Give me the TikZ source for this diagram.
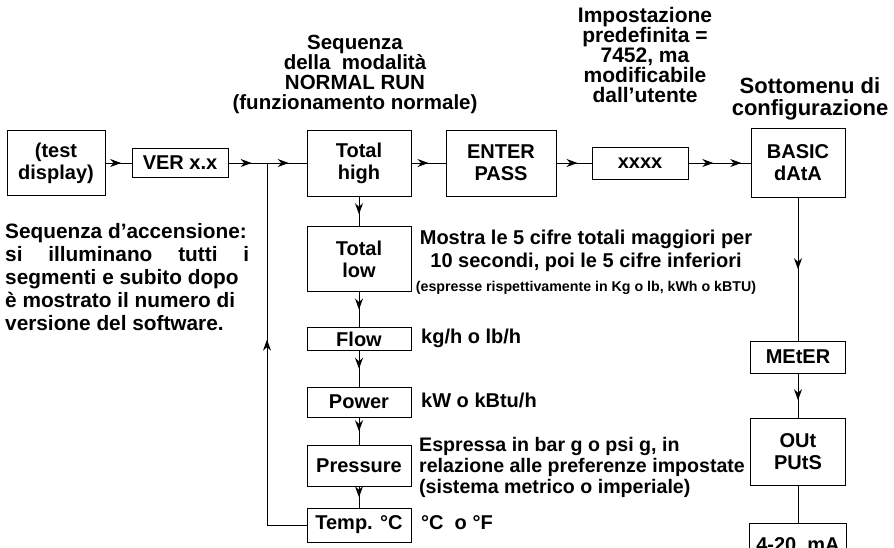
\documentclass[tikz,border=0pt]{standalone}
\usepackage{fontspec}
\setmainfont{Liberation Sans}
\usetikzlibrary{arrows.meta,decorations.markings,positioning}

\begin{document}
\begin{tikzpicture}[x=1pt,y=-1pt,
  box/.style={draw, line width=1pt, align=center, inner sep=0pt,
    font=\fontsize{20}{22}\selectfont\bfseries},
  desc/.style={align=center, inner sep=0pt,
    font=\fontsize{20}{23}\selectfont\bfseries},
  piccolo/.style={inner sep=0pt, font=\fontsize{14.2}{16}\selectfont\bfseries},
  conn/.style={line width=0.9pt},
  midarrow/.style={conn, postaction={decorate}, decoration={markings,
    mark=at position #1 with {\arrow{Stealth[length=11pt,width=8pt]}}}},
  midarrow/.default=0.5,
  dblarrow/.style={conn, postaction={decorate}, decoration={markings,
    mark=at position 0.4 with {\arrow{Stealth[length=11pt,width=8pt]}},
    mark=at position 0.85 with {\arrow{Stealth[length=11pt,width=8pt]}}}}]

  \useasboundingbox (0,0) rectangle (894,547);
  \clip (0,0) rectangle (894,547);

  % Riga principale
  \node[box, minimum width=98, minimum height=65] (test) at (56,163) {(test\\display)};
  \node[box, minimum width=96, minimum height=29] (ver) at (180,163) {VER x.x};
  \coordinate (giunz) at (267,163);
  \node[box, minimum width=104, minimum height=66] (thigh) at (359,163) {Total\\high};
  \node[box, minimum width=110, minimum height=66] (enter) at (501,163) {ENTER\\PASS};
  \node[box, minimum width=96, minimum height=32] (xxxx) at (640,163) {xxxx};
  \node[box, minimum width=94, minimum height=69] (basic) at (798,163) {BASIC\\dAtA};

  % Colonna NORMAL RUN
  \node[box, minimum width=104, minimum height=65] (tlow) at (359,259) {Total\\low};
  \node[box, minimum width=104, minimum height=23] (flow) at (359,339) {Flow};
  \node[box, minimum width=104, minimum height=30] (power) at (359,402) {Power};
  \node[box, minimum width=104, minimum height=41] (press) at (359,466) {Pressure};
  \node[box, minimum width=104, minimum height=34] (temp) at (359,525) {Temp. °C};

  % Colonna configurazione
  \node[box, minimum width=95, minimum height=32] (meter) at (798,357) {MEtER};
  \node[box, minimum width=95, minimum height=67] (outs) at (798,452) {OUt\\PUtS};
  \node[box, minimum width=97, minimum height=44] (ma) at (798,545) {4-20~~mA};

  % Testi
  \node[desc, font=\fontsize{20.5}{20}\selectfont\bfseries] (seqnr) at (355,74)
    {Sequenza\\della~ modalità\\NORMAL RUN\\(funzionamento normale)};
  \node[desc, font=\fontsize{21}{20}\selectfont\bfseries] (impost) at (645,55)
    {Impostazione\\predefinita =\\7452, ma\\modificabile\\dall’utente};
  \node[desc, font=\fontsize{22}{22}\selectfont\bfseries] (sottom) at (810,99)
    {Sottomenu di\\configurazione};
  \node[desc, align=left, anchor=west, font=\fontsize{20.8}{23}\selectfont\bfseries] (accens) at (5,277)
    {Sequenza d’accensione:\\
     \hbox to 244pt{s\hfil i\hfill i\hfil l\hfil l\hfil u\hfil m\hfil i\hfil n\hfil a\hfil n\hfil o\hfill t\hfil u\hfil t\hfil t\hfil i\hfill i}\\
     segmenti e subito dopo\\è mostrato il numero di\\versione del software.};
  \node[desc] (mostra) at (586,251)
    {Mostra le 5 cifre totali maggiori per\\10 secondi, poi le 5 cifre inferiori};
  \node[piccolo] (espresse) at (586,288)
    {(espresse rispettivamente in Kg o lb, kWh o kBTU)};
  \node[desc, anchor=west] (kg) at (421,338) {kg/h o lb/h};
  \node[desc, anchor=west] (kw) at (421,400) {kW o kBtu/h};
  \node[desc, align=left, anchor=west, font=\fontsize{19.6}{21}\selectfont\bfseries] (espressa) at (419,467)
    {Espressa in bar g o psi g, in\\relazione alle preferenze impostate\\(sistema metrico o imperiale)};
  \node[desc, anchor=west] (gradi) at (421,523) {°C~ o °F};

  % Collegamenti
  \draw[midarrow=0.6] (test.east |- ver) -- (ver.west);
  \draw[midarrow=0.6] (ver.east) -- (giunz);
  \draw[midarrow=0.55] (giunz) -- (thigh.west);
  \draw[midarrow] (thigh.east) -- (enter.west);
  \draw[midarrow=0.6] (enter.east) -- (xxxx.west);
  \draw[dblarrow] (xxxx.east) -- (basic.west);
  \draw[midarrow=0.6] (thigh.south) -- (tlow.north);
  \draw[midarrow] (tlow.south) -- (flow.north);
  \draw[midarrow] (flow.south) -- (power.north);
  \draw[midarrow] (power.south) -- (press.north);
  \draw[midarrow] (press.south) -- (temp.north);
  \draw[midarrow=0.56] (temp.west) -| (giunz);
  \draw[midarrow=0.5] (basic.south) -- (meter.north);
  \draw[midarrow=0.6] (meter.south) -- (outs.north);
  \draw[conn] (outs.south) -- (ma.north);
\end{tikzpicture}
\end{document}
